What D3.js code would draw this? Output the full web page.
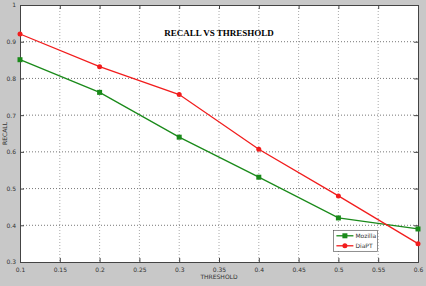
<!DOCTYPE html>
<html>
<head>
<meta charset="utf-8">
<script src="https://cdn.jsdelivr.net/npm/d3@7.9.0/dist/d3.min.js"></script>
<style>
  body { margin: 0; background: #c8c8c8; }
  svg { display: block; }
</style>
</head>
<body>
<svg id="chart" width="426" height="286"></svg>
<script>
const thresholds = [0.1, 0.2, 0.3, 0.4, 0.5, 0.6];
const mozilla = [0.851, 0.762, 0.640, 0.531, 0.420, 0.390];
const diapt = [0.921, 0.832, 0.756, 0.607, 0.480, 0.350];
const xTicks = [0.1, 0.15, 0.2, 0.25, 0.3, 0.35, 0.4, 0.45, 0.5, 0.55, 0.6];
const yTicks = [0.3, 0.4, 0.5, 0.6, 0.7, 0.8, 0.9, 1];

const svg = d3.select("#chart");
const margin = { top: 5, right: 8, bottom: 24, left: 20 };
const width = +svg.attr("width") - margin.left - margin.right;
const height = +svg.attr("height") - margin.top - margin.bottom;
const g = svg.append("g").attr("transform", `translate(${margin.left},${margin.top})`);

const x = d3.scaleLinear().domain([0.1, 0.6]).range([0, width]);
const y = d3.scaleLinear().domain([0.3, 1]).range([height, 0]);

// plot background
g.append("rect").attr("width", width).attr("height", height).attr("fill", "#fff");

// grid
g.append("g").selectAll("line").data(xTicks.slice(1, -1)).join("line")
  .attr("x1", d => x(d)).attr("x2", d => x(d))
  .attr("y1", 0).attr("y2", height)
  .attr("stroke", "#aaa").attr("stroke-dasharray", "1,2");
g.append("g").selectAll("line").data(yTicks.slice(1, -1)).join("line")
  .attr("y1", d => y(d)).attr("y2", d => y(d))
  .attr("x1", 0).attr("x2", width)
  .attr("stroke", "#777").attr("stroke-dasharray", "1,2");

// Axes
g.append("g").attr("transform", `translate(0,${height})`)
  .call(d3.axisBottom(x).tickValues(xTicks).tickSize(-4).tickPadding(6).tickFormat(d3.format("")));
g.append("g")
  .call(d3.axisLeft(y).tickValues(yTicks).tickSize(-4).tickPadding(4).tickFormat(d => d === 1 ? "1" : d3.format(".1f")(d)));
g.append("g").attr("transform", `translate(${width},0)`)
  .call(d3.axisRight(y).tickValues(yTicks).tickSize(-4).tickFormat(""));
g.append("g")
  .call(d3.axisTop(x).tickValues(xTicks).tickSize(-4).tickFormat(""));
g.selectAll(".domain").attr("stroke", "#444");
g.selectAll(".tick line").attr("stroke", "#444");
g.selectAll(".tick text").attr("font-family", "DejaVu Sans").attr("font-size", 6).attr("fill", "#333");

// Title
g.append("text")
  .attr("x", x(0.35)).attr("y", 31)
  .attr("text-anchor", "middle")
  .attr("font-family", "Liberation Serif").attr("font-weight", "bold").attr("font-size", 9)
  .text("RECALL VS THRESHOLD");

// Axis labels
svg.append("text")
  .attr("text-anchor", "middle")
  .attr("x", margin.left + width / 2)
  .attr("y", 279)
  .attr("font-family", "DejaVu Sans").attr("font-size", 6).attr("fill", "#333")
  .text("THRESHOLD");
svg.append("text")
  .attr("text-anchor", "middle")
  .attr("transform", "rotate(-90)")
  .attr("x", -(margin.top + height / 2))
  .attr("y", 7)
  .attr("font-family", "DejaVu Sans").attr("font-size", 6).attr("fill", "#333")
  .text("RECALL");

// Lines
const series = [
  { name: "Mozilla", values: mozilla, color: "#1a8a1a", shape: "square" },
  { name: "DiaPT", values: diapt, color: "#f21d1d", shape: "circle" }
];
const line = d3.line().x((d, i) => x(thresholds[i])).y(d => y(d));

series.forEach(s => {
  g.append("path")
    .datum(s.values)
    .attr("fill", "none")
    .attr("stroke", s.color)
    .attr("stroke-width", 1.3)
    .attr("d", line);
  if (s.shape === "square") {
    g.selectAll(null).data(s.values).join("rect")
      .attr("x", (d, i) => x(thresholds[i]) - 2.5).attr("y", d => y(d) - 2.5)
      .attr("width", 5).attr("height", 5).attr("fill", s.color);
  } else {
    g.selectAll(null).data(s.values).join("circle")
      .attr("cx", (d, i) => x(thresholds[i])).attr("cy", d => y(d))
      .attr("r", 2.5).attr("fill", s.color);
  }
});

// Legend
const legend = g.append("g").attr("transform", `translate(${x(0.5) - 5},${y(0.4) + 5})`);
legend.append("rect").attr("width", 44).attr("height", 21)
  .attr("fill", "#fff").attr("stroke", "#444").attr("stroke-width", 0.6);
series.forEach((s, i) => {
  const ly = 5.5 + i * 10;
  legend.append("line").attr("x1", 3).attr("x2", 20).attr("y1", ly).attr("y2", ly)
    .attr("stroke", s.color).attr("stroke-width", 1.3);
  if (s.shape === "square") {
    legend.append("rect").attr("x", 9).attr("y", ly - 2.5).attr("width", 5).attr("height", 5).attr("fill", s.color);
  } else {
    legend.append("circle").attr("cx", 11.5).attr("cy", ly).attr("r", 2.5).attr("fill", s.color);
  }
  legend.append("text").attr("x", 22).attr("y", ly + 2)
    .attr("font-family", "DejaVu Sans").attr("font-size", 6).attr("fill", "#333")
    .text(s.name);
});
</script>
</body>
</html>
